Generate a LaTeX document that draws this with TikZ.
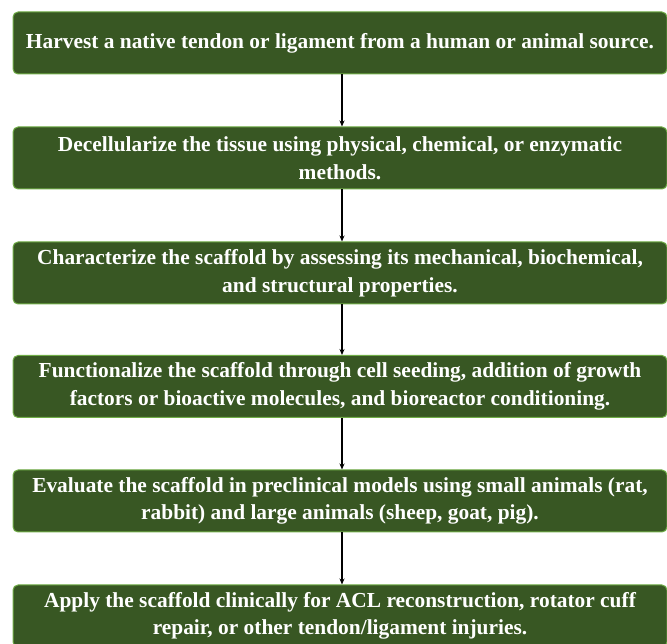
\documentclass[tikz,border=0pt]{standalone}
\usepackage{fontspec}
\setmainfont{Liberation Serif}
\usetikzlibrary{arrows.meta}
\definecolor{boxfill}{HTML}{385723}
\definecolor{boxline}{HTML}{70AD47}
\begin{document}
\begin{tikzpicture}[x=1pt,y=1pt,
  stepbox/.style={draw=boxline, line width=1pt, fill=boxfill, rounded corners=5pt,
    minimum width=654pt, minimum height=62pt, text=white,
    font=\bfseries\fontsize{21.4}{27.5}\selectfont, align=center, inner sep=0pt},
  flow/.style={-{Stealth[length=6pt,width=5pt]}, line width=1.1pt, black}]
\useasboundingbox (0,0) rectangle (667,643);
\node[stepbox] (s1) at (340,600) {Harvest a native tendon or ligament from a human or animal source.};
\node[stepbox] (s2) at (340,485) {Decellularize the tissue using physical, chemical, or enzymatic\\methods.};
\node[stepbox] (s3) at (340,370) {Characterize the scaffold by assessing its mechanical, biochemical,\\and structural properties.};
\node[stepbox] (s4) at (340,256.5) {Functionalize the scaffold through cell seeding, addition of growth\\factors or bioactive molecules, and bioreactor conditioning.};
\node[stepbox] (s5) at (340,142) {Evaluate the scaffold in preclinical models using small animals (rat,\\rabbit) and large animals (sheep, goat, pig).};
\node[stepbox] (s6) at (340,27) {Apply the scaffold clinically for ACL reconstruction, rotator cuff\\repair, or other tendon/ligament injuries.};
\foreach \a/\b in {s1/s2,s2/s3,s3/s4,s4/s5,s5/s6}
  \draw[flow] ([xshift=2pt]\a.south) -- ([xshift=2pt]\b.north);
\end{tikzpicture}
\end{document}
